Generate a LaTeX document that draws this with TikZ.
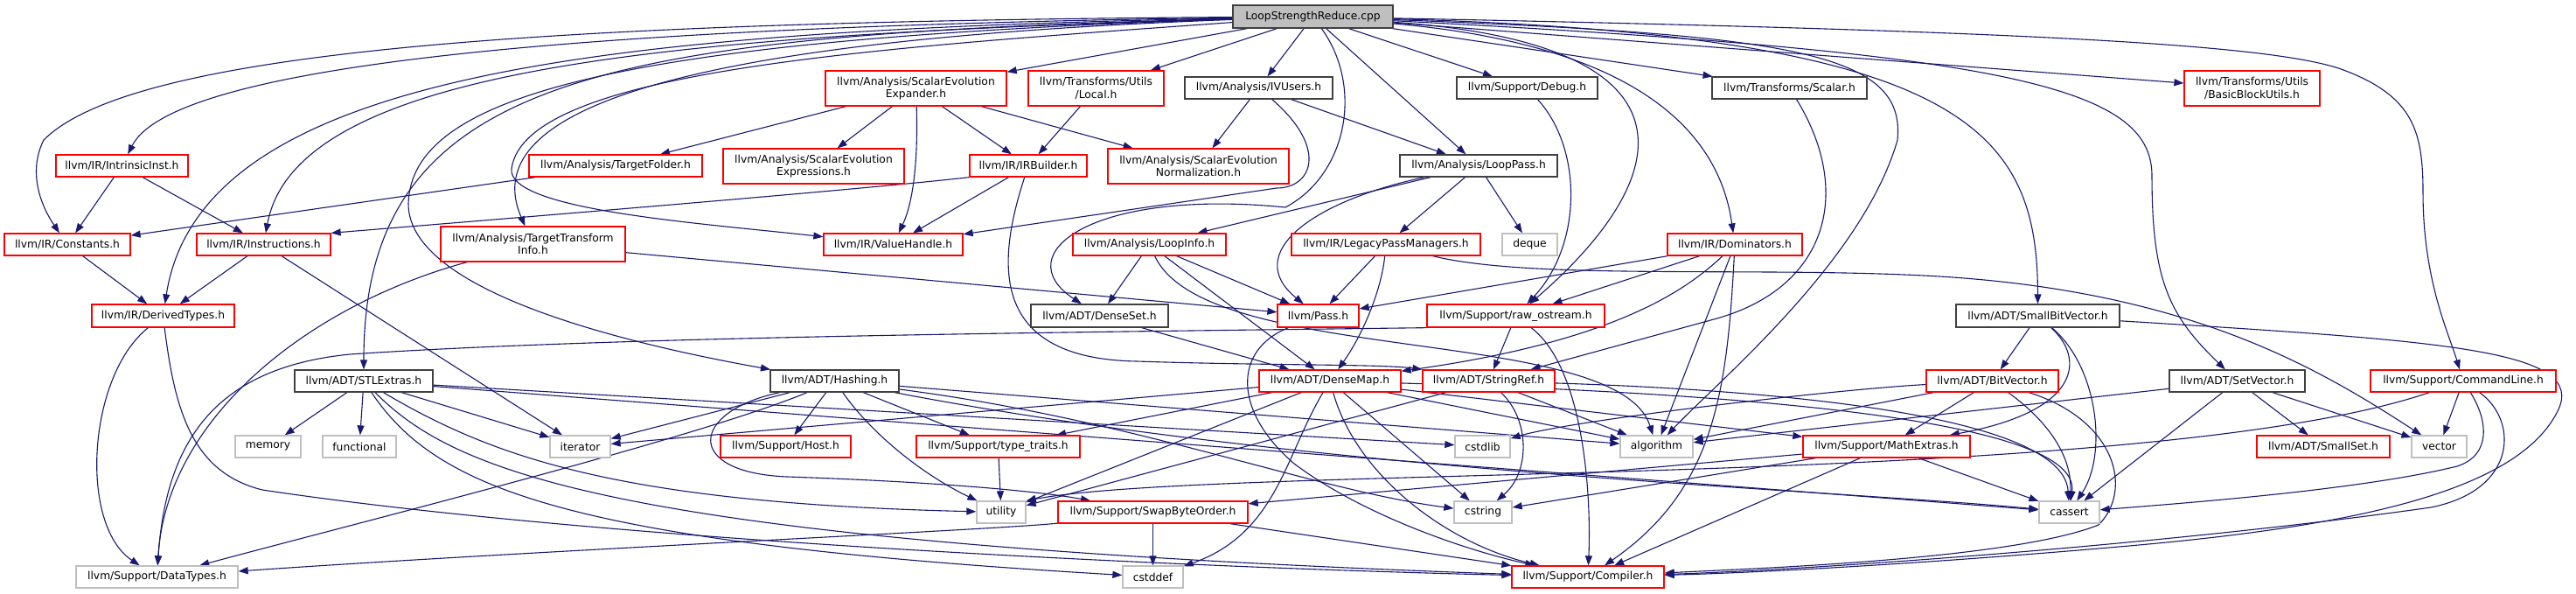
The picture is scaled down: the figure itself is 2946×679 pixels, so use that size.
\documentclass[tikz,border=0pt]{standalone}
\usepackage{fontspec}
\newfontfamily\dvs{DejaVu Sans}
\usetikzlibrary{arrows.meta}
\pgfdeclarelayer{bg}
\pgfsetlayers{bg,main}
\definecolor{edgec}{HTML}{191970}
\definecolor{dred}{HTML}{FF0000}
\definecolor{dblk}{HTML}{404040}
\definecolor{dgry}{HTML}{BFBFBF}
\definecolor{rootfill}{HTML}{BFBFBF}
\newcommand\nfont{\dvs\fontsize{12.3pt}{14.3pt}\selectfont}
\begin{document}
\begin{tikzpicture}[x=1pt,y=-1pt,
  nb/.style={draw, line width=1.3pt, inner sep=0pt, font=\nfont, align=center, fill=white, minimum height=25pt},
  rn/.style={nb, draw=dred},
  kn/.style={nb, draw=dblk},
  gn/.style={nb, draw=dgry},
  rootn/.style={nb, draw=dblk, fill=rootfill},
  arr/.style={draw=edgec, line width=1.1pt, -{Triangle[length=11pt,width=8pt]}},
]
\path[use as bounding box] (0,0) rectangle (2946,679);
% ---------------- nodes
\node[rootn, minimum width=183pt, minimum height=26pt] (root) at (1501.5,19) {LoopStrengthReduce.cpp};
\node[rn, minimum width=207pt, minimum height=40pt] (sexp) at (1047.5,101) {llvm/Analysis/ScalarEvolution\\Expander.h};
\node[rn, minimum width=155pt, minimum height=40pt] (local) at (1253.5,101) {llvm/Transforms/Utils\\/Local.h};
\node[kn, minimum width=169pt] (ivusers) at (1439.5,100.5) {llvm/Analysis/IVUsers.h};
\node[kn, minimum width=161pt] (debug) at (1746.5,100.5) {llvm/Support/Debug.h};
\node[kn, minimum width=177pt] (scalar) at (2046.5,100.5) {llvm/Transforms/Scalar.h};
\node[rn, minimum width=155pt, minimum height=40pt] (bbutils) at (2575.5,101) {llvm/Transforms/Utils\\/BasicBlockUtils.h};
\node[rn, minimum width=151pt] (intrinsic) at (139.5,189.5) {llvm/IR/IntrinsicInst.h};
\node[rn, minimum width=198pt] (tfolder) at (704,189.5) {llvm/Analysis/TargetFolder.h};
\node[rn, minimum width=207pt, minimum height=40pt] (sexpr) at (930.5,190) {llvm/Analysis/ScalarEvolution\\Expressions.h};
\node[rn, minimum width=134pt] (irbuilder) at (1176,189.5) {llvm/IR/IRBuilder.h};
\node[rn, minimum width=207pt, minimum height=40pt] (snorm) at (1370.5,190) {llvm/Analysis/ScalarEvolution\\Normalization.h};
\node[kn, minimum width=180pt] (looppass) at (1691,189.5) {llvm/Analysis/LoopPass.h};
\node[rn, minimum width=144pt] (constants) at (77,279.5) {llvm/IR/Constants.h};
\node[rn, minimum width=153pt] (instructions) at (301.5,279.5) {llvm/IR/Instructions.h};
\node[rn, minimum width=211pt, minimum height=40pt] (tti) at (609.5,279) {llvm/Analysis/TargetTransform\\Info.h};
\node[rn, minimum width=159pt] (valuehandle) at (1021.5,279.5) {llvm/IR/ValueHandle.h};
\node[rn, minimum width=175pt] (loopinfo) at (1314.5,279.5) {llvm/Analysis/LoopInfo.h};
\node[rn, minimum width=216pt] (legacy) at (1585,279.5) {llvm/IR/LegacyPassManagers.h};
\node[gn, minimum width=63pt] (deque) at (1749.5,279.5) {deque};
\node[rn, minimum width=154pt] (dominators) at (1984,279.5) {llvm/IR/Dominators.h};
\node[rn, minimum width=163pt, minimum height=26pt] (derived) at (186.5,361) {llvm/IR/DerivedTypes.h};
\node[kn, minimum width=157pt, minimum height=26pt] (denseset) at (1257.5,361) {llvm/ADT/DenseSet.h};
\node[rn, minimum width=93pt, minimum height=26pt] (pass) at (1507.5,361) {llvm/Pass.h};
\node[rn, minimum width=203pt, minimum height=26pt] (rawos) at (1733.5,361) {llvm/Support/raw\_ostream.h};
\node[kn, minimum width=187pt, minimum height=26pt] (smallbv) at (2330.5,361) {llvm/ADT/SmallBitVector.h};
\node[kn, minimum width=158pt] (stlextras) at (416,435.5) {llvm/ADT/STLExtras.h};
\node[kn, minimum width=147pt] (hashing) at (954.5,435.5) {llvm/ADT/Hashing.h};
\node[rn, minimum width=162pt] (densemap) at (1521,435.5) {llvm/ADT/DenseMap.h};
\node[rn, minimum width=151pt] (stringref) at (1702.5,435.5) {llvm/ADT/StringRef.h};
\node[rn, minimum width=151pt] (bitvector) at (2278.5,435.5) {llvm/ADT/BitVector.h};
\node[kn, minimum width=155pt] (setvector) at (2558.5,435.5) {llvm/ADT/SetVector.h};
\node[rn, minimum width=212pt] (cmdline) at (2817,435.5) {llvm/Support/CommandLine.h};
\node[gn, minimum width=75pt] (memory) at (306.5,510.5) {memory};
\node[gn, minimum width=84pt] (functional) at (411,510.5) {functional};
\node[gn, minimum width=69pt] (iterator) at (663.5,510.5) {iterator};
\node[rn, minimum width=149pt] (host) at (898.5,510.5) {llvm/Support/Host.h};
\node[rn, minimum width=187pt] (typetraits) at (1141.5,510.5) {llvm/Support/type\_traits.h};
\node[gn, minimum width=63pt] (cstdlib) at (1695.5,510.5) {cstdlib};
\node[gn, minimum width=83pt] (algorithm) at (1894.5,510.5) {algorithm};
\node[rn, minimum width=191pt] (mathextras) at (2157.5,510.5) {llvm/Support/MathExtras.h};
\node[rn, minimum width=152pt] (smallset) at (2657,510.5) {llvm/ADT/SmallSet.h};
\node[gn, minimum width=63pt] (vector) at (2789.5,510.5) {vector};
\node[gn, minimum width=56pt] (utility) at (1145,585.5) {utility};
\node[rn, minimum width=217pt] (swap) at (1318.5,585.5) {llvm/Support/SwapByteOrder.h};
\node[gn, minimum width=66pt] (cstring) at (1696,585.5) {cstring};
\node[gn, minimum width=69pt] (cassert) at (2366.5,585.5) {cassert};
\node[gn, minimum width=185pt] (datatypes) at (179.5,659.5) {llvm/Support/DataTypes.h};
\node[gn, minimum width=69pt] (cstddef) at (1318.5,659.5) {cstddef};
\node[rn, minimum width=174pt] (compiler) at (1816,659.5) {llvm/Support/Compiler.h};
% ---------------- edges
\begin{pgfonlayer}{bg}
\fill[white] (0,0) rectangle (2946,679);
% root
\draw[arr] (root) .. controls (600,25) and (150,60) .. (50,160) .. controls (30,200) and (50,240) .. (constants);
\draw[arr] (root) .. controls (700,30) and (200,70) .. (intrinsic);
\draw[arr] (root) .. controls (700,35) and (230,80) .. (derived);
\draw[arr] (root) .. controls (800,40) and (340,70) .. (instructions);
\draw[arr] (root) .. controls (700,40) and (416,80) .. (stlextras);
\draw[arr] (root) .. controls (700,45) and (470,110) .. (467,233) .. controls (467,330) and (700,390) .. (hashing);
\draw[arr] (root) .. controls (800,45) and (540,120) .. (tti);
\draw[arr] (root) .. controls (1000,55) and (600,80) .. (585,193) .. controls (580,240) and (800,255) .. (valuehandle);
\draw[arr] (root) -- (sexp);
\draw[arr] (root) -- (local);
\draw[arr] (root) -- (ivusers);
\draw[arr] (root) .. controls (1560,100) and (1540,200) .. (1470,237) .. controls (1250,215) and (1150,290) .. (denseset);
\draw[arr] (root) -- (looppass);
\draw[arr] (root) -- (debug);
\draw[arr] (root) -- (scalar);
\draw[arr] (root) -- (bbutils);
\draw[arr] (root) .. controls (1800,45) and (1960,110) .. (dominators);
\draw[arr] (root) .. controls (1950,50) and (1920,200) .. (rawos);
\draw[arr] (root) .. controls (2250,40) and (2330,150) .. (smallbv);
\draw[arr] (root) .. controls (2300,60) and (2460,100) .. (2461,200) .. controls (2461,320) and (2480,360) .. (setvector);
\draw[arr] (root) .. controls (2300,35) and (2600,50) .. (2680,80) .. controls (2760,110) and (2771,150) .. (2771,220) .. controls (2771,320) and (2800,380) .. (cmdline);
\draw[arr] (root) .. controls (2050,40) and (2180,60) .. (2170,160) .. controls (2130,300) and (1960,440) .. (algorithm);
% row 1
\draw[arr] (sexp) -- (sexpr);
\draw[arr] (sexp) -- (tfolder);
\draw[arr] (sexp) .. controls (1050,180) and (1045,230) .. (valuehandle);
\draw[arr] (sexp) -- (irbuilder);
\draw[arr] (sexp) -- (snorm);
\draw[arr] (local) -- (irbuilder);
\draw[arr] (ivusers) -- (snorm);
\draw[arr] (ivusers) -- (looppass);
\draw[arr] (ivusers) .. controls (1520,170) and (1500,215) .. (1460,215) -- (valuehandle);
\draw[arr] (debug) .. controls (1810,170) and (1810,280) .. (rawos);
\draw[arr] (scalar) .. controls (2120,220) and (2090,330) .. (1960,365) -- (stringref);
% row 2
\draw[arr] (intrinsic) -- (constants);
\draw[arr] (intrinsic) -- (instructions);
\draw[arr] (tfolder) -- (constants);
\draw[arr] (irbuilder.south west) .. controls (1000,215) and (700,240) .. (instructions.north east);
\draw[arr] (irbuilder) -- (valuehandle);
\draw[arr] (irbuilder) .. controls (1140,300) and (1130,410) .. (1300,413) .. controls (1450,418) and (1580,416) .. (stringref.north west);
\draw[arr] (looppass) -- (loopinfo);
\draw[arr] (looppass) .. controls (1500,230) and (1420,290) .. (pass);
\draw[arr] (looppass) -- (legacy);
\draw[arr] (looppass) -- (deque);
% row 3
\draw[arr] (constants) -- (derived);
\draw[arr] (instructions) -- (derived);
\draw[arr] (instructions) -- (iterator);
\draw[arr] (tti) .. controls (350,350) and (190,480) .. (datatypes);
\draw[arr] (tti) -- (pass);
\draw[arr] (loopinfo) -- (denseset);
\draw[arr] (loopinfo) -- (densemap);
\draw[arr] (loopinfo) -- (pass);
\draw[arr] (loopinfo) .. controls (1380,420) and (1850,370) .. (algorithm);
\draw[arr] (legacy) -- (pass);
\draw[arr] (legacy) .. controls (1580,330) and (1560,380) .. (densemap);
\draw[arr] (legacy) .. controls (1750,320) and (2000,305) .. (2200,315) .. controls (2500,330) and (2650,420) .. (vector);
\draw[arr] (dominators) -- (pass);
\draw[arr] (dominators) -- (rawos);
\draw[arr] (dominators) .. controls (1930,330) and (1850,390) .. (densemap);
\draw[arr] (dominators) -- (algorithm);
\draw[arr] (dominators) .. controls (1975,450) and (1960,560) .. (compiler);
% row 4
\draw[arr] (derived) .. controls (100,430) and (90,600) .. (datatypes);
\draw[arr] (derived) .. controls (200,470) and (220,540) .. (300,560) .. controls (700,620) and (1400,650) .. (compiler);
\draw[arr] (denseset) -- (densemap);
\draw[arr] (pass) .. controls (1410,400) and (1410,470) .. (1480,530) .. controls (1560,590) and (1680,630) .. (compiler);
\draw[arr] (rawos) -- (stringref);
\draw[arr] (rawos) .. controls (1810,420) and (1820,560) .. (compiler);
\draw[arr] (rawos.south west) .. controls (1200,380) and (700,385) .. (400,405) .. controls (250,420) and (190,500) .. (datatypes);
\draw[arr] (smallbv) -- (bitvector);
\draw[arr] (smallbv) .. controls (2385,410) and (2380,470) .. (mathextras);
\draw[arr] (smallbv) .. controls (2400,420) and (2410,520) .. (cassert);
\draw[arr] (smallbv) .. controls (2800,390) and (2960,400) .. (2925,470) .. controls (2880,560) and (2700,600) .. (2446,623) .. controls (2200,645) and (2000,655) .. (compiler);
% row 5
\draw[arr] (stlextras) -- (memory);
\draw[arr] (stlextras) -- (functional);
\draw[arr] (stlextras) -- (iterator);
\draw[arr] (stlextras) -- (cstdlib);
\draw[arr] (stlextras) -- (cassert);
\draw[arr] (stlextras) .. controls (560,520) and (700,575) .. (utility);
\draw[arr] (stlextras) .. controls (500,560) and (650,620) .. (cstddef);
\draw[arr] (stlextras) .. controls (520,540) and (700,620) .. (compiler);
\draw[arr] (hashing) -- (iterator);
\draw[arr] (hashing) -- (host);
\draw[arr] (hashing) -- (typetraits);
\draw[arr] (hashing) .. controls (1000,500) and (1060,545) .. (utility);
\draw[arr] (hashing) -- (algorithm);
\draw[arr] (hashing) .. controls (1300,480) and (1500,560) .. (cstring);
\draw[arr] (hashing) .. controls (1500,540) and (2100,560) .. (cassert);
\draw[arr] (hashing) .. controls (800,500) and (400,600) .. (datatypes);
\draw[arr] (hashing) .. controls (790,470) and (780,540) .. (900,545) .. controls (1050,550) and (1180,560) .. (swap);
\draw[arr] (densemap) -- (iterator);
\draw[arr] (densemap) -- (typetraits);
\draw[arr] (densemap) -- (utility);
\draw[arr] (densemap) .. controls (1470,520) and (1460,610) .. (cstddef);
\draw[arr] (densemap) -- (cstring);
\draw[arr] (densemap) .. controls (1550,540) and (1650,620) .. (compiler);
\draw[arr] (densemap) -- (algorithm);
\draw[arr] (densemap) .. controls (2000,450) and (2380,480) .. (cassert);
\draw[arr] (densemap) -- (mathextras);
\draw[arr] (stringref) -- (algorithm);
\draw[arr] (stringref) .. controls (1750,480) and (1750,540) .. (cstring);
\draw[arr] (stringref) -- (utility);
\draw[arr] (stringref) .. controls (2000,445) and (2360,470) .. (cassert);
\draw[arr] (bitvector) -- (mathextras);
\draw[arr] (bitvector) -- (algorithm);
\draw[arr] (bitvector) .. controls (2100,445) and (1800,480) .. (cstdlib);
\draw[arr] (bitvector) .. controls (2340,480) and (2370,520) .. (cassert);
\draw[arr] (bitvector) .. controls (2420,480) and (2440,560) .. (2400,600) .. controls (2300,640) and (2000,650) .. (compiler);
\draw[arr] (setvector) -- (smallset);
\draw[arr] (setvector) -- (vector);
\draw[arr] (setvector) -- (cassert);
\draw[arr] (setvector) -- (algorithm);
\draw[arr] (cmdline) -- (vector);
\draw[arr] (cmdline) .. controls (2845,480) and (2850,520) .. (2810,533) .. controls (2700,560) and (2500,575) .. (cassert);
\draw[arr] (cmdline) .. controls (2880,480) and (2880,560) .. (2780,580) .. controls (2500,620) and (2100,650) .. (compiler);
\draw[arr] (cmdline) .. controls (2450,560) and (1400,530) .. (utility.north east);
% row 6
\draw[arr] (typetraits) -- (utility);
\draw[arr] (mathextras) -- (cassert);
\draw[arr] (mathextras) -- (compiler);
\draw[arr] (mathextras) -- (swap);
\draw[arr] (mathextras) -- (cstring);
% row 7
\draw[arr] (swap) -- (cstddef);
\draw[arr] (swap) -- (compiler);
\draw[arr] (swap) .. controls (1150,605) and (600,630) .. (datatypes);
\end{pgfonlayer}
\end{tikzpicture}
\end{document}
